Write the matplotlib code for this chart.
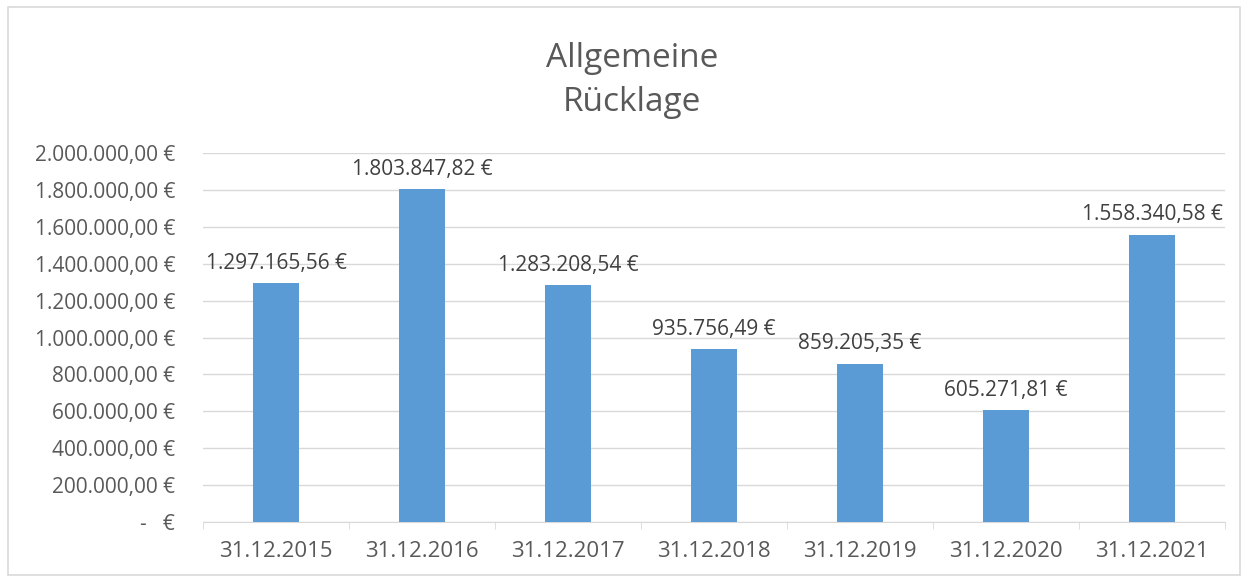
import matplotlib.pyplot as plt
import numpy as np
from matplotlib.patches import Rectangle
from matplotlib.ticker import FuncFormatter, FixedLocator

plt.rcParams['font.family'] = ['Open Sans', 'DejaVu Sans']

dates = ['31.12.2015', '31.12.2016', '31.12.2017', '31.12.2018',
         '31.12.2019', '31.12.2020', '31.12.2021']
values = [1297165.56, 1803847.82, 1283208.54, 935756.49,
          859205.35, 605271.81, 1558340.58]


def euro(v):
    s = f"{v:,.2f}"
    s = s.replace(',', 'X').replace('.', ',').replace('X', '.')
    return s + ' €'


def tick_fmt(v, pos):
    if v == 0:
        return '-   €'
    return euro(v)


fig = plt.figure(figsize=(12.5, 5.81), dpi=100)
fig.patches.append(Rectangle((8 / 1250, 6 / 581), 1232 / 1250, 568 / 581,
                             transform=fig.transFigure, fill=False,
                             edgecolor='#d9d9d9', linewidth=1.2))

ax = fig.add_axes([0.1624, 0.1015, 0.8176, 0.635])
x = np.arange(len(dates))
bars = ax.bar(x, values, width=0.315, color='#5b9bd5', zorder=3)

for rect, v in zip(bars, values):
    ax.text(rect.get_x() + rect.get_width() / 2, v + 50000, euro(v),
            ha='center', va='bottom', fontsize=15, color='#404040')

ax.set_xlim(-0.5, len(dates) - 0.5)
ax.set_ylim(0, 2000000)
ax.set_yticks(np.arange(0, 2000001, 200000))
ax.yaxis.set_major_formatter(FuncFormatter(tick_fmt))
ax.set_xticks(x)
ax.set_xticklabels(dates)
ax.xaxis.set_minor_locator(FixedLocator(np.arange(-0.5, len(dates), 1.0)))

ax.grid(axis='y', color='#d9d9d9', linewidth=1, zorder=0)
for s in ['top', 'right', 'left']:
    ax.spines[s].set_visible(False)
ax.spines['bottom'].set_color('#d9d9d9')
ax.tick_params(axis='y', length=0, labelsize=15, labelcolor='#595959', pad=20)
ax.tick_params(axis='x', which='major', length=0, labelsize=16, labelcolor='#595959', pad=14)
ax.tick_params(axis='x', which='minor', length=5, color='#d9d9d9')

fig.text(0.5056, 0.862, 'Allgemeine\nRücklage', ha='center', va='center',
         fontsize=24, color='#595959', linespacing=1.45)

fig.savefig('out.png', dpi=100)
